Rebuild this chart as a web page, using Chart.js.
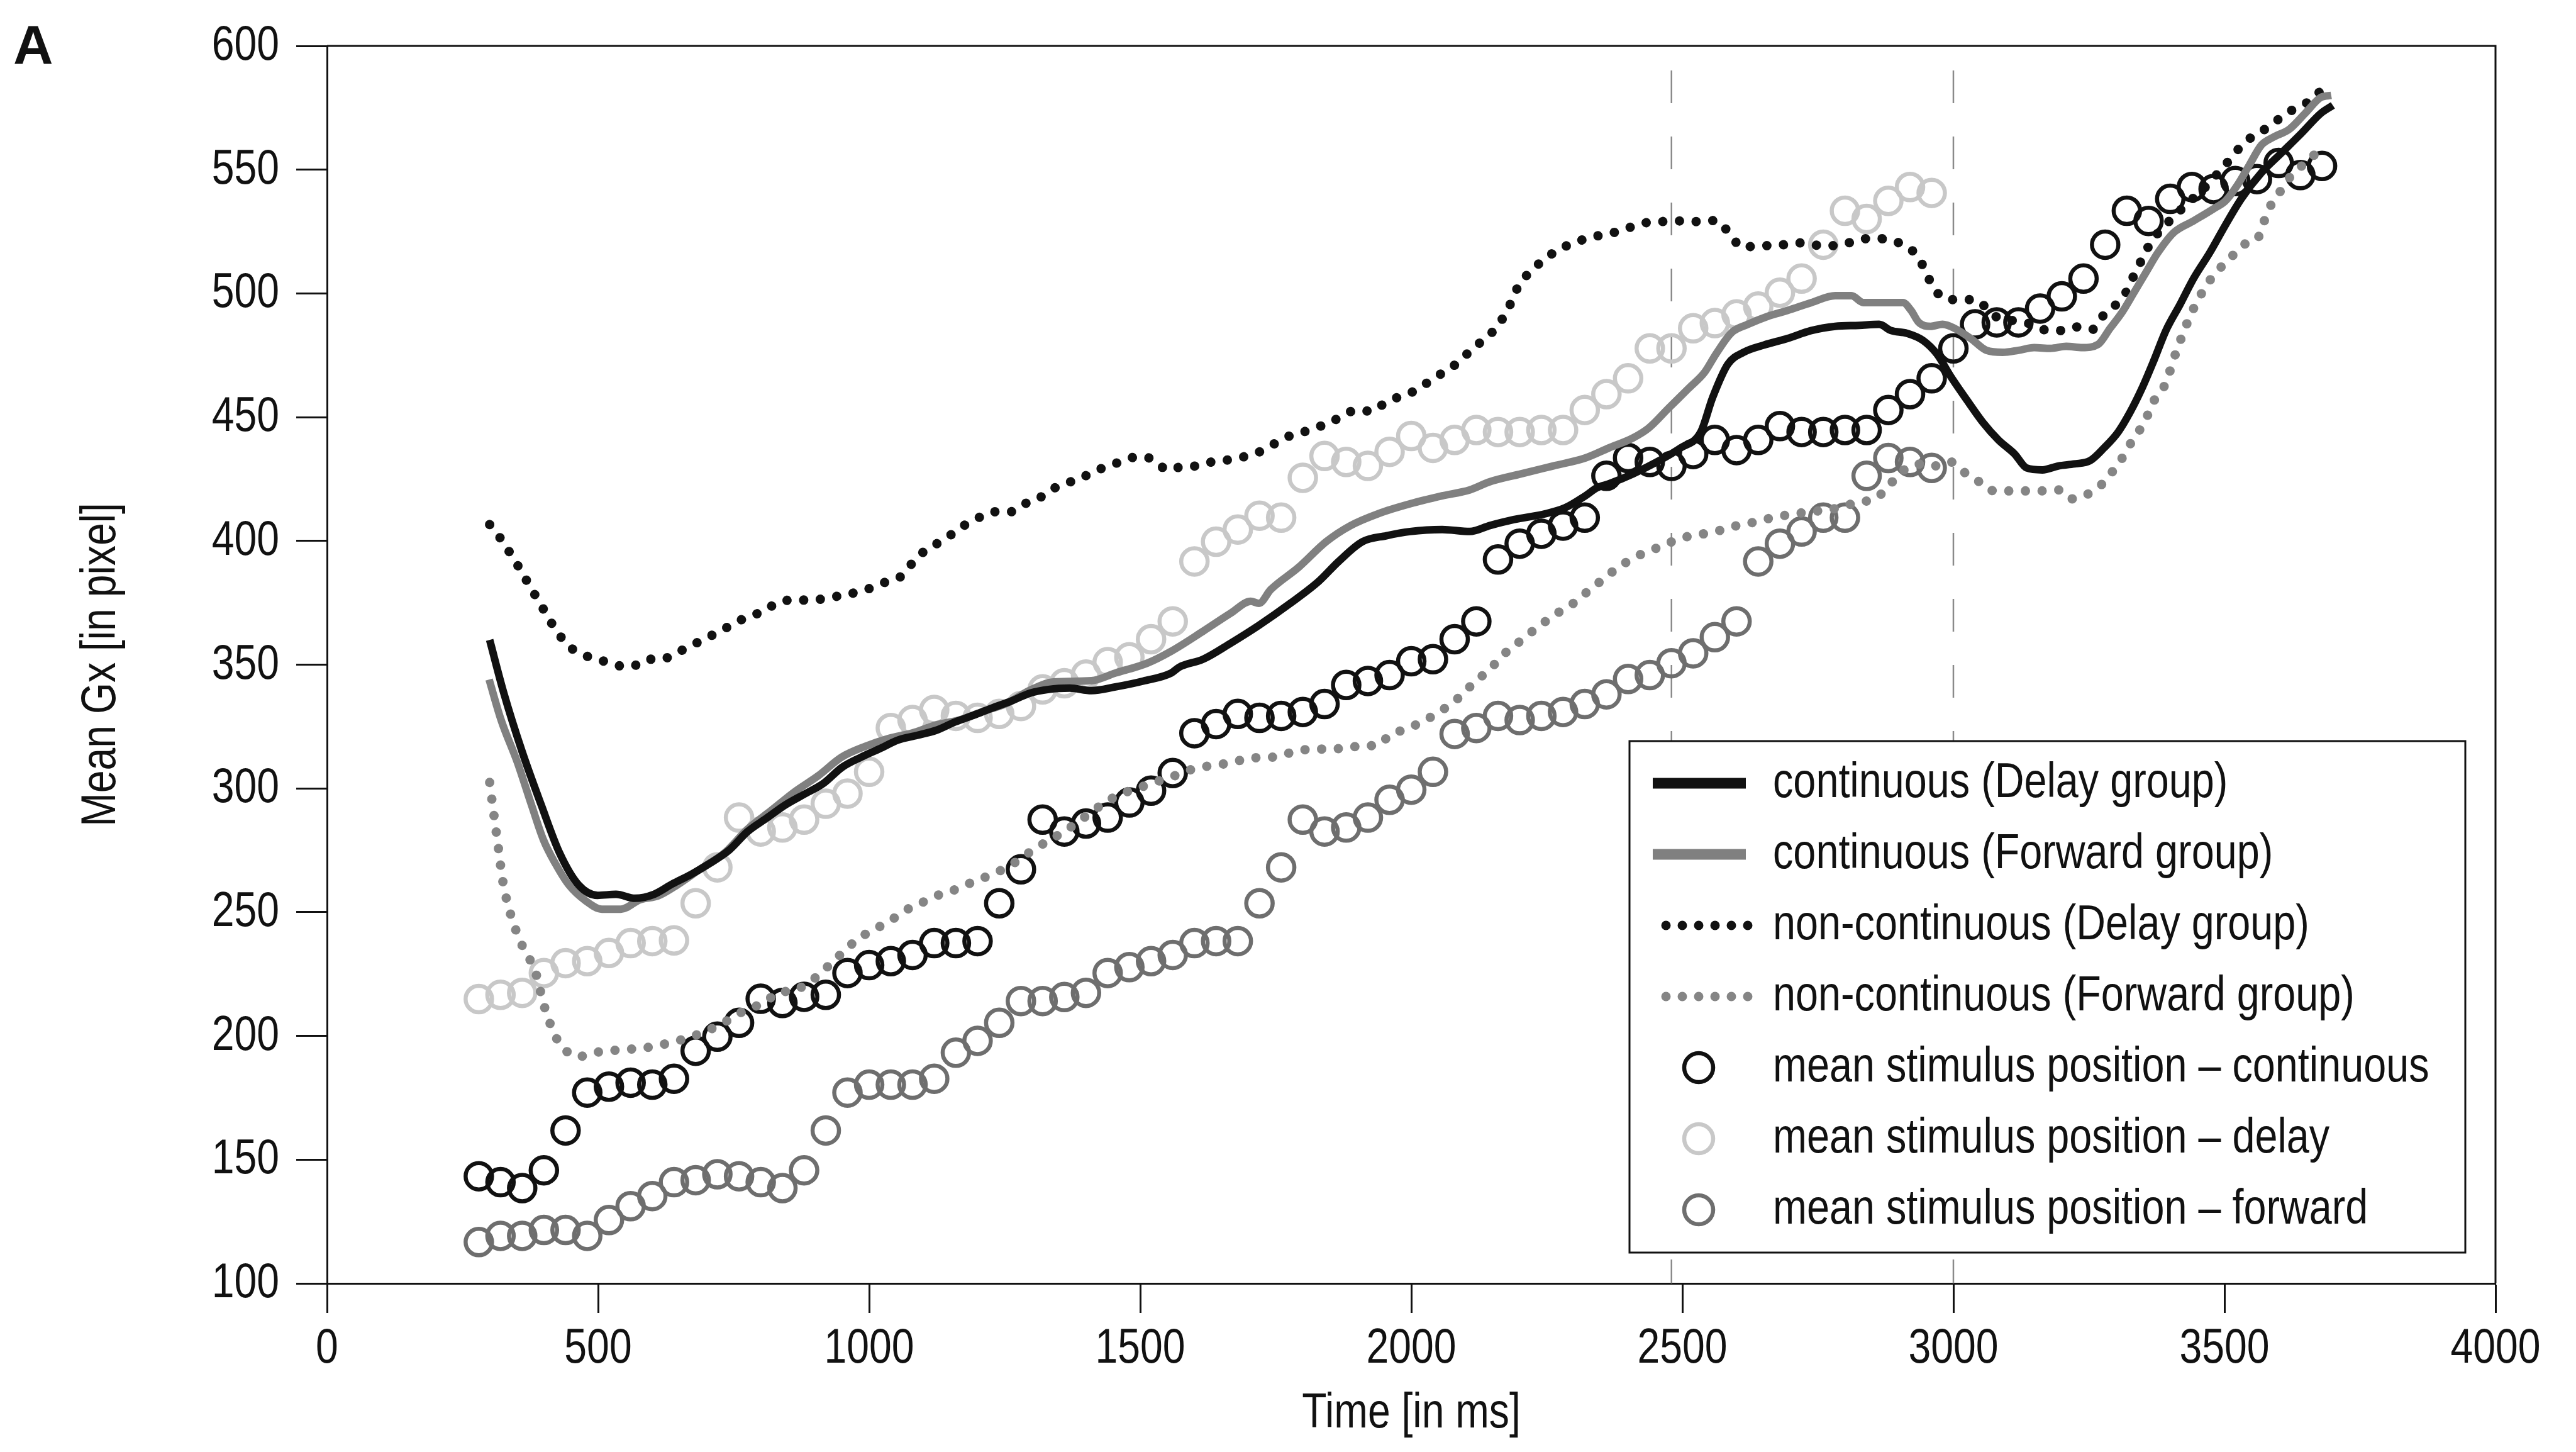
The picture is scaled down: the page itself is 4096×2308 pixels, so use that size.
<!DOCTYPE html>
<html>
<head>
<meta charset="utf-8">
<title>Mean Gx over time</title>
<script src="https://cdn.jsdelivr.net/npm/chart.js@4.4.1/dist/chart.umd.min.js"></script>
<style>
  html, body { margin: 0; padding: 0; background: #fff; }
  #wrap { width: 4096px; height: 2308px; }
</style>
</head>
<body>
<div id="wrap"><canvas id="gazeChart" width="4096" height="2308"></canvas></div>
<script>
// gaze traces: [time ms, mean Gx px]
const contDelay = [
  [300, 360], [326, 338.6], [360, 314.8], [395, 293.4], [429, 273.9], [464, 261], [499, 256.8], [533, 257.2],
  [568, 255.6], [603, 257.2], [637, 261.4], [672, 265.3], [706, 269.7], [742, 275.1], [776, 282.6], [811, 288],
  [846, 293.4], [880, 297.6], [915, 301.9], [950, 308.5], [985, 312.6], [1019, 316], [1054, 319.6], [1088, 321.4],
  [1124, 323.5], [1158, 326.8], [1192, 329.5], [1227, 332.5], [1262, 335.3], [1297, 338.5], [1331, 340], [1370, 340.5],
  [1410, 339.5], [1454, 341], [1506, 343.4], [1557, 346.6], [1572, 349], [1616, 352.2], [1667, 358.7], [1719, 365.9],
  [1777, 374.8], [1829, 383.6], [1866, 391.7], [1910, 399.7], [1954, 402.1], [1998, 403.8], [2057, 404.6], [2108, 403.8],
  [2145, 406.2], [2189, 408.6], [2248, 411], [2284, 413.4], [2321, 418.2], [2343, 421.5], [2365, 423.1], [2409, 427.1],
  [2453, 431.9], [2497, 437.6], [2534, 444], [2556, 458], [2584, 471.4], [2613, 476.2], [2650, 479.1], [2694, 481.8],
  [2738, 485], [2782, 486.7], [2826, 487.1], [2863, 487.5], [2885, 485], [2914, 483.9], [2944, 481], [2970, 475.4],
  [2995, 466.5], [3025, 456.9], [3054, 448], [3083, 440.8], [3113, 435.1], [3135, 429.5], [3164, 428.7], [3194, 430.3],
  [3223, 431.1], [3252, 432.4], [3278, 437.6], [3304, 444], [3326, 452], [3348, 461.7], [3370, 473], [3392, 485],
  [3418, 495.5], [3443, 506], [3473, 516.5], [3502, 527.7], [3531, 538.2], [3568, 548.7], [3605, 556.7], [3642, 564.7],
  [3678, 572.8], [3700, 576]
];

const contForward = [
  [299, 344], [321, 327.7], [351, 310.6], [377, 293.4], [399, 279.3], [421, 269.7], [446, 261], [477, 254.6],
  [507, 251.2], [542, 251.2], [577, 255], [611, 256.6], [646, 261], [689, 267.5], [733, 273.9], [776, 283.6],
  [820, 291.2], [863, 298.7], [906, 305.1], [949, 312.6], [993, 317], [1036, 320.2], [1080, 322.4], [1123, 325.6],
  [1167, 327.7], [1210, 331.1], [1253, 334.3], [1297, 339.7], [1340, 343], [1410, 343.5], [1454, 346.6], [1513, 350.6],
  [1557, 355.4], [1616, 363.5], [1667, 370.8], [1704, 375.6], [1719, 374.8], [1741, 380.4], [1792, 389.3], [1843, 399.7],
  [1888, 406.2], [1939, 411], [1998, 415], [2057, 418.2], [2108, 420.6], [2145, 423.9], [2203, 427.1], [2262, 430.3],
  [2321, 433.5], [2365, 437.6], [2409, 441.6], [2438, 445.6], [2475, 453.7], [2512, 461.7], [2541, 468.1], [2562, 475.5],
  [2591, 484.2], [2621, 487.5], [2657, 490.7], [2694, 493.1], [2738, 496.3], [2782, 499.1], [2812, 499.1], [2834, 496.3],
  [2870, 496.3], [2907, 496.3], [2922, 493.1], [2936, 488.3], [2958, 486.7], [2980, 487.5], [3002, 485.9], [3032, 481.8],
  [3061, 477], [3091, 476.2], [3120, 477], [3149, 478.1], [3179, 477.8], [3208, 478.6], [3238, 478.1], [3267, 479.4],
  [3289, 485.9], [3311, 492.3], [3333, 500.3], [3355, 508.4], [3377, 516.4], [3406, 524.5], [3443, 529.3], [3480, 534.2],
  [3502, 537.4], [3524, 543.8], [3546, 551.9], [3568, 559.9], [3590, 563.1], [3620, 566.4], [3649, 572.8], [3678, 579.2],
  [3697, 580]
];

const nonContDelay = [
  [300, 406.6], [319, 401.3], [335, 396], [352, 390], [367, 384.4], [382, 378.8], [397, 373.2], [413, 367.2],
  [429, 361.9], [448, 357.1], [475, 353.8], [504, 351.9], [532, 349.8], [562, 349.3], [590, 352.2], [617, 352.2],
  [643, 354.6], [670, 357.5], [698, 360.6], [725, 363.5], [751, 366.7], [778, 369.5], [806, 371.6], [831, 375.1],
  [861, 376.1], [890, 376.1], [919, 376.7], [949, 378], [978, 379.3], [1006, 381.2], [1033, 383.6], [1059, 385.7],
  [1079, 390.9], [1101, 395.7], [1125, 398.9], [1151, 402.5], [1175, 406.2], [1202, 409.4], [1232, 411.8], [1261, 411.8],
  [1287, 415], [1309, 416.6], [1332, 420.2], [1360, 423.1], [1388, 425], [1417, 428.4], [1445, 430.3], [1473, 433],
  [1500, 434], [1526, 432.7], [1550, 428.7], [1573, 429.8], [1603, 430.3], [1632, 431.9], [1661, 432.7], [1691, 434],
  [1719, 435.9], [1747, 439.2], [1772, 442.1], [1801, 444], [1825, 445.9], [1849, 447.5], [1874, 450.8], [1901, 452.9],
  [1926, 452.4], [1954, 456.1], [1981, 458.5], [2009, 460.9], [2034, 464.6], [2059, 468.1], [2084, 471.7], [2106, 476.2],
  [2130, 480.7], [2152, 485], [2170, 490.4], [2184, 496.3], [2196, 502.3], [2214, 507.6], [2235, 511.9], [2260, 516.1],
  [2286, 519.2], [2315, 521.6], [2343, 523.2], [2372, 524.5], [2402, 526.6], [2431, 528.5], [2460, 529], [2494, 529.3],
  [2534, 529], [2562, 529.5], [2591, 523], [2610, 518.5], [2639, 519.3], [2668, 519.3], [2698, 520], [2725, 520.5],
  [2754, 519.3], [2781, 519.3], [2808, 520.5], [2837, 522.1], [2867, 522.1], [2892, 521], [2920, 518.1], [2938, 513.6],
  [2951, 507.6], [2967, 501.2], [2988, 497.5], [3017, 497.5], [3040, 497.5], [3075, 491], [3110, 489], [3146, 487.5],
  [3175, 485], [3204, 485], [3230, 486.5], [3257, 485.5], [3278, 491.5], [3300, 495.5], [3318, 500.3], [3329, 505.5],
  [3341, 510.8], [3353, 516], [3365, 521], [3380, 525], [3395, 528.5], [3430, 536], [3464, 542.8], [3503, 552.3],
  [3537, 560.9], [3582, 567.4], [3611, 572.2], [3641, 576], [3664, 578.5], [3684, 584]
];

const nonContForward = [
  [300, 302.4], [308, 289], [316, 276.1], [324, 262.8], [338, 249.6], [358, 237.5], [385, 225.4], [400, 212.5],
  [421, 200], [437, 194.8], [463, 191.6], [492, 193.2], [521, 194], [551, 194.5], [582, 195.1], [611, 196.1],
  [640, 197.7], [668, 199.3], [695, 201.6], [725, 204.5], [750, 207.7], [776, 210.9], [806, 213.3], [834, 217.7],
  [861, 218.2], [886, 221.4], [912, 225.4], [933, 230.2], [955, 234.3], [978, 239.1], [1004, 242.3], [1030, 245.5],
  [1055, 248.8], [1081, 252.5], [1107, 254.7], [1132, 257.3], [1160, 259.2], [1190, 262.1], [1217, 264.4], [1243, 266.9],
  [1272, 270.5], [1298, 274.5], [1334, 279.3], [1360, 282.6], [1386, 286.6], [1432, 293.8], [1458, 297.1], [1487, 299.5],
  [1513, 301.4], [1541, 303.5], [1570, 305.6], [1597, 307.8], [1627, 309.1], [1654, 309.9], [1680, 311.1], [1705, 312.4],
  [1733, 312.4], [1763, 313.6], [1791, 315.2], [1821, 315.9], [1851, 315.9], [1880, 316.4], [1910, 317.2], [1939, 317.5],
  [1961, 321.7], [1990, 323.9], [2016, 326.5], [2043, 329.7], [2068, 333.3], [2093, 337.7], [2115, 342.6], [2141, 347.4],
  [2159, 351.4], [2181, 356.3], [2206, 360.3], [2228, 364.3], [2253, 368.3], [2275, 371.6], [2299, 374.8], [2321, 378.8],
  [2344, 382.8], [2367, 386.9], [2393, 390.9], [2419, 394.1], [2446, 396.5], [2472, 398.9], [2501, 401.3], [2530, 402.5],
  [2562, 403.8], [2591, 405.7], [2621, 407], [2650, 408.6], [2679, 409.9], [2709, 411], [2738, 411.8], [2768, 412.6],
  [2797, 413.7], [2823, 415.8], [2852, 416.6], [2878, 421.5], [2900, 427.1], [2922, 430.3], [2944, 431.1], [2969, 430.3],
  [2995, 431.9], [3019, 427.9], [3043, 424.7], [3065, 420.6], [3089, 420.2], [3113, 420.2], [3135, 420.2], [3158, 420.2],
  [3195, 420.6], [3218, 417], [3245, 418.6], [3271, 422.3], [3293, 427.9], [3310, 433], [3324, 438.4], [3339, 443.2],
  [3354, 448.8], [3371, 457], [3390, 463], [3412, 477], [3439, 492], [3469, 504], [3491, 510], [3513, 514.8],
  [3535, 519.7], [3561, 522.1], [3572, 528.5], [3586, 535.8], [3601, 540.6], [3618, 546.2], [3636, 550.3], [3658, 554.3],
  [3682, 559.9]
];

// stimulus samples every 40 ms
const stimTimes = [
  280, 320, 360, 400, 440, 480, 520, 560, 600, 640, 680, 720, 760, 800, 840, 880, 920, 960, 1000, 1040,
  1080, 1120, 1160, 1200, 1240, 1280, 1320, 1360, 1400, 1440, 1480, 1520, 1560, 1600, 1640, 1680, 1720, 1760, 1800, 1840,
  1880, 1920, 1960, 2000, 2040, 2080, 2120, 2160, 2200, 2240, 2280, 2320, 2360, 2400, 2440, 2480, 2520, 2560, 2600, 2640,
  2680, 2720, 2760, 2800, 2840, 2880, 2920, 2960, 3000, 3040, 3080, 3120, 3160, 3200, 3240, 3280, 3320, 3360, 3400, 3440,
  3480, 3520, 3560, 3600, 3640, 3680
];

const stimContinuous = [
  143.3, 140.9, 138.5, 145.7, 161.8, 177.1, 179.5, 181.1, 180.3, 182.7,
  194.0, 199.7, 205.3, 215.0, 213.3, 215.8, 216.6, 225.4, 228.6, 230.2,
  232.7, 237.5, 237.5, 238.3, 253.6, 267.3, 287.4, 282.6, 285.8, 288.2,
  294.3, 299.1, 306.2, 322.3, 326.0, 330.1, 328.5, 329.3, 330.9, 334.1,
  341.8, 343.4, 345.8, 351.4, 352.2, 360.3, 367.5, 392.5, 398.9, 402.9,
  406.2, 409.4, 426.3, 433.5, 431.9, 430.3, 435.1, 440.8, 436.7, 440.8,
  446.4, 444.0, 444.0, 444.8, 444.8, 452.9, 459.3, 465.7, 477.8, 487.5,
  488.3, 488.3, 493.9, 498.8, 506.0, 519.7, 533.4, 529.3, 538.2, 543.0,
  542.2, 545.4, 546.2, 552.7, 547.8, 551.5
];

const stimDelay = [
  214.9, 216.6, 217.4, 225.4, 229.4, 230.2, 233.5, 237.5, 238.3, 238.6,
  253.6, 268.1, 288.2, 282.6, 284.2, 287.4, 293.8, 297.9, 306.7, 324.4,
  327.6, 331.7, 329.3, 328.5, 330.1, 333.3, 340.0, 342.5, 346.0, 351.0,
  353.0, 360.3, 367.5, 391.7, 399.7, 404.6, 410.2, 409.4, 425.5, 434.3,
  431.9, 430.3, 436.0, 442.4, 437.6, 440.8, 444.8, 444.0, 444.0, 444.8,
  444.8, 452.9, 459.3, 465.7, 477.8, 477.8, 485.9, 488.0, 491.5, 494.7,
  500.3, 506.0, 519.7, 533.4, 530.1, 537.4, 543.0, 540.6
];

const stimForward = [
  116.7, 119.2, 119.2, 121.6, 121.6, 119.2, 125.6, 131.2, 135.3, 140.9,
  141.7, 144.1, 143.3, 140.9, 138.5, 145.7, 161.8, 177.1, 180.3, 180.3,
  180.3, 182.7, 193.2, 198.0, 205.3, 214.1, 214.1, 215.7, 217.4, 225.4,
  227.8, 230.2, 232.7, 237.5, 238.3, 238.3, 253.6, 268.1, 287.4, 282.6,
  284.2, 288.2, 295.4, 299.5, 306.7, 322.0, 324.4, 329.3, 327.6, 329.3,
  330.9, 334.1, 338.0, 344.2, 345.8, 350.6, 354.6, 361.1, 367.5, 391.7,
  398.9, 403.8, 409.4, 409.4, 426.3, 433.5, 431.9, 429.5
];

// dashed reference times
const markerTimes = [2480, 3000];

const xTitle = 'Time [in ms]';
const yTitle = 'Mean Gx [in pixel]';

const FONT = "'Liberation Sans', Arial, sans-serif";
const INK = '#111111';
// the narrow face is not available, so text is squeezed horizontally
const AXIS_SQUEEZE = 0.835;
const LEGEND_SQUEEZE = 0.83;

const pairs = arr => arr.map(([x, y]) => ({ x, y }));
const stimPoints = vals => vals.map((y, i) => ({ x: stimTimes[i], y }));

function traceDataset(label, data, color, dotted) {
  return {
    label,
    data: pairs(data),
    showLine: true,
    borderColor: color,
    backgroundColor: color,
    borderWidth: dotted ? 15 : 12,
    borderDash: dotted ? [0.001, 26.5] : [],
    borderCapStyle: dotted ? 'round' : 'butt',
    borderJoinStyle: 'round',
    cubicInterpolationMode: 'monotone',
    pointRadius: 0,
    pointHoverRadius: 0,
    fill: false,
    kind: dotted ? 'dots' : 'solid'
  };
}

function stimDataset(label, vals, color) {
  return {
    label,
    data: stimPoints(vals),
    showLine: false,
    borderColor: color,
    backgroundColor: 'rgba(0,0,0,0)',
    pointStyle: 'circle',
    pointRadius: 21,
    pointHoverRadius: 21,
    pointBorderWidth: 6.5,
    kind: 'circle'
  };
}

const datasets = [
  traceDataset('continuous (Delay group)', contDelay, INK, false),
  traceDataset('continuous (Forward group)', contForward, '#808080', false),
  traceDataset('non-continuous (Delay group)', nonContDelay, INK, true),
  traceDataset('non-continuous (Forward group)', nonContForward, '#858585', true),
  stimDataset('mean stimulus position \u2013 continuous', stimContinuous, INK),
  stimDataset('mean stimulus position \u2013 delay', stimDelay, '#c8c8c8'),
  stimDataset('mean stimulus position \u2013 forward', stimForward, '#6e6e6e')
];

function squeezedText(ctx, text, x, y, opts) {
  ctx.save();
  ctx.translate(x, y);
  if (opts.rotate) ctx.rotate(opts.rotate);
  ctx.scale(opts.squeeze, 1);
  ctx.font = (opts.weight || '') + ' ' + opts.size + 'px ' + FONT;
  ctx.fillStyle = INK;
  ctx.textAlign = opts.align || 'left';
  ctx.textBaseline = 'alphabetic';
  ctx.fillText(text, 0, 0);
  ctx.restore();
}

// dashed markers, frame, axis text, boxed legend and panel letter
const decorations = {
  id: 'decorations',
  beforeDatasetsDraw(chart) {
    const { ctx, chartArea: a, scales: { x } } = chart;
    ctx.save();
    ctx.strokeStyle = '#8a8a8a';
    ctx.lineWidth = 2.5;
    ctx.setLineDash([52, 53]);
    ctx.lineDashOffset = 66;
    markerTimes.forEach(t => {
      const px = x.getPixelForValue(t);
      ctx.beginPath();
      ctx.moveTo(px, a.top);
      ctx.lineTo(px, a.bottom);
      ctx.stroke();
    });
    ctx.restore();
  },
  afterDraw(chart) {
    const { ctx, chartArea: a, scales: { x, y } } = chart;
    ctx.save();

    // frame top and right
    ctx.strokeStyle = INK;
    ctx.lineWidth = 3;
    ctx.beginPath();
    ctx.moveTo(a.left, a.top);
    ctx.lineTo(a.right, a.top);
    ctx.lineTo(a.right, a.bottom);
    ctx.stroke();

    // tick labels
    x.ticks.forEach(t => {
      squeezedText(ctx, String(t.value), x.getPixelForValue(t.value), 2166,
        { size: 77, squeeze: AXIS_SQUEEZE, align: 'center' });
    });
    y.ticks.forEach(t => {
      squeezedText(ctx, String(t.value), 444, y.getPixelForValue(t.value) + 22,
        { size: 77, squeeze: AXIS_SQUEEZE, align: 'right' });
    });

    // axis titles
    squeezedText(ctx, xTitle, (a.left + a.right) / 2, 2269,
      { size: 77, squeeze: AXIS_SQUEEZE, align: 'center' });
    squeezedText(ctx, yTitle, 183, (a.top + a.bottom) / 2,
      { size: 77, squeeze: AXIS_SQUEEZE, align: 'center', rotate: -Math.PI / 2 });

    // legend
    const box = { left: 2591, top: 1178, right: 3920, bottom: 1991 };
    ctx.fillStyle = '#ffffff';
    ctx.fillRect(box.left, box.top, box.right - box.left, box.bottom - box.top);
    ctx.strokeStyle = INK;
    ctx.lineWidth = 3;
    ctx.strokeRect(box.left, box.top, box.right - box.left, box.bottom - box.top);

    const rowY0 = 1245, rowStep = 113;
    chart.data.datasets.forEach((ds, i) => {
      const ry = rowY0 + i * rowStep;
      ctx.save();
      ctx.strokeStyle = ds.borderColor;
      if (ds.kind === 'solid') {
        ctx.lineWidth = 17;
        ctx.lineCap = 'butt';
        ctx.beginPath();
        ctx.moveTo(2628, ry);
        ctx.lineTo(2776, ry);
        ctx.stroke();
      } else if (ds.kind === 'dots') {
        ctx.lineWidth = 15;
        ctx.lineCap = 'round';
        ctx.setLineDash([0.001, 26]);
        ctx.beginPath();
        ctx.moveTo(2649, ry);
        ctx.lineTo(2781, ry);
        ctx.stroke();
      } else {
        ctx.lineWidth = 6.5;
        ctx.beginPath();
        ctx.arc(2701, ry, 23, 0, Math.PI * 2);
        ctx.stroke();
      }
      ctx.restore();
      squeezedText(ctx, ds.label, 2819, ry + 22, { size: 78, squeeze: LEGEND_SQUEEZE });
    });

    // panel letter
    ctx.fillStyle = INK;
    ctx.font = 'bold 88px ' + FONT;
    ctx.textAlign = 'left';
    ctx.textBaseline = 'alphabetic';
    ctx.fillText('A', 21, 101);
    ctx.restore();
  }
};

const ctx = document.getElementById('gazeChart').getContext('2d');
new Chart(ctx, {
  type: 'scatter',
  data: { datasets },
  options: {
    responsive: false,
    devicePixelRatio: 1,
    animation: false,
    events: [],
    layout: { padding: { left: 0, right: 128, top: 73, bottom: 0 } },
    plugins: {
      legend: { display: false },
      tooltip: { enabled: false }
    },
    scales: {
      x: {
        type: 'linear',
        min: 0,
        max: 4000,
        ticks: { stepSize: 500, display: false },
        grid: { drawOnChartArea: false, drawTicks: true, tickLength: 47, tickWidth: 3, tickColor: INK },
        border: { display: true, color: INK, width: 3 },
        afterFit: s => { s.height = 268; }
      },
      y: {
        type: 'linear',
        min: 100,
        max: 600,
        ticks: { stepSize: 50, display: false },
        grid: { drawOnChartArea: false, drawTicks: true, tickLength: 49, tickWidth: 3, tickColor: INK },
        border: { display: true, color: INK, width: 3 },
        afterFit: s => { s.width = 520; }
      }
    }
  },
  plugins: [decorations]
});
</script>
</body>
</html>
